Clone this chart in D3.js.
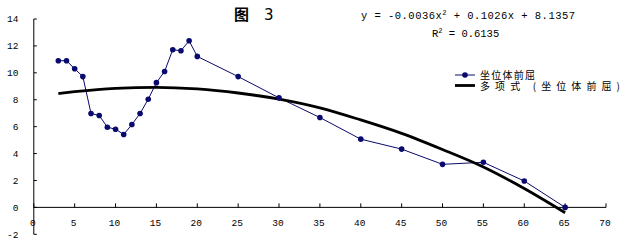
<!DOCTYPE html>
<html><head><meta charset="utf-8">
<script src="https://cdn.jsdelivr.net/npm/d3@7"></script>
<style>body{margin:0;background:#fff}svg{display:block}</style>
</head><body>
<svg id="c" width="623" height="240"></svg>
<script>
const xValues = [3,4,5,6,7,8,9,10,11,12,13,14,15,16,17,18,19,20,25,30,35,40,45,50,55,60,65];
const yValues = [10.9,10.9,10.3,9.72,6.98,6.83,5.96,5.81,5.42,6.16,6.98,8.04,9.27,10.1,11.72,11.64,12.38,11.22,9.72,8.14,6.68,5.07,4.33,3.2,3.35,1.96,0.0];
const trendX = [3,5,10,15,20,25,30,35,40,45,50,55,60,65];
const trendY = [8.46,8.6,8.85,8.92,8.8,8.5,8.05,7.4,6.5,5.5,4.3,3.0,1.4,-0.4];
const xTicks = [0,5,10,15,20,25,30,35,40,45,50,55,60,65,70];
const yTicks = [-2,0,2,4,6,8,10,12,14];
const seriesName = "坐位体前屈";
const trendName = "多项式 (坐位体前屈)";
const titleA = "图";
const titleB = "3";
const eqText = "y = -0.0036x";
const eqText2 = " + 0.1026x + 8.1357";
const r2Text = " = 0.6135";

const svg = d3.select("#c");
const x = d3.scaleLinear().domain([0,70]).range([33.8,606]);
const y = d3.scaleLinear().domain([-2,14]).range([234.3,19]);
const navy = "#0a0a6e";
const tickFont = "'Liberation Mono', monospace";

// y axis
svg.append("line").attr("x1",x(0)).attr("x2",x(0)).attr("y1",y(14)).attr("y2",y(-2)).attr("stroke","#000");
yTicks.forEach(t=>{
  svg.append("line").attr("x1",x(0)).attr("x2",x(0)+3).attr("y1",y(t)).attr("y2",y(t)).attr("stroke","#000");
  svg.append("text").attr("x",18.5).attr("y",y(t)).attr("dy","0.35em").attr("text-anchor","end")
    .attr("font-family",tickFont).attr("font-size","9.5px").text(t);
});
// x axis
svg.append("line").attr("x1",x(0)).attr("x2",x(70)).attr("y1",y(0)).attr("y2",y(0)).attr("stroke","#000");
xTicks.forEach(t=>{
  svg.append("line").attr("x1",x(t)).attr("x2",x(t)).attr("y1",y(0)).attr("y2",y(0)-4).attr("stroke","#000");
  svg.append("text").attr("x",x(t)-1).attr("y",225.5).attr("text-anchor","middle")
    .attr("font-family",tickFont).attr("font-size","9.5px").text(t);
});

// series line
const pts = xValues.map((v,i)=>[v,yValues[i]]);
svg.append("path").attr("d",d3.line().x(d=>x(d[0])).y(d=>y(d[1]))(pts))
  .attr("fill","none").attr("stroke",navy).attr("stroke-width",1);
// trend
const tpts = trendX.map((v,i)=>[v,trendY[i]]);
svg.append("path").attr("d",d3.line().curve(d3.curveMonotoneX).x(d=>x(d[0])).y(d=>y(d[1]))(tpts))
  .attr("fill","none").attr("stroke","#000").attr("stroke-width",2.8);
// markers
svg.selectAll("circle.m").data(pts).enter().append("circle").attr("class","m")
  .attr("cx",d=>x(d[0])).attr("cy",d=>y(d[1])).attr("r",2.8).attr("fill",navy);

// title
svg.append("text").attr("x",234).attr("y",20).attr("font-family","'Noto Sans CJK SC'")
  .attr("font-size","15px").attr("font-weight","bold").text(titleA);
svg.append("text").attr("x",264).attr("y",20).attr("font-family","'DejaVu Sans'")
  .attr("font-size","15px").text(titleB);

// equation
const eq = svg.append("text").attr("x",361).attr("y",18.5).attr("font-family",tickFont).attr("font-size","10.5px")
  .attr("textLength",214).attr("lengthAdjust","spacing");
eq.append("tspan").text(eqText);
eq.append("tspan").attr("dy",-4).attr("font-size","7px").text("2");
eq.append("tspan").attr("dy",4).text(eqText2);
const r2 = svg.append("text").attr("x",432).attr("y",36.5).attr("font-family",tickFont).attr("font-size","10.5px");
r2.append("tspan").text("R");
r2.append("tspan").attr("dy",-4).attr("font-size","7px").text("2");
r2.append("tspan").attr("dy",4).text(r2Text);

// legend
svg.append("line").attr("x1",455).attr("x2",475).attr("y1",75).attr("y2",75).attr("stroke",navy).attr("stroke-width",1);
svg.append("circle").attr("cx",465).attr("cy",75).attr("r",2.8).attr("fill",navy);
svg.append("text").attr("x",480).attr("y",75).attr("dy","0.35em").attr("font-family","'Noto Sans CJK SC'")
  .attr("font-size","10px").attr("textLength",55).text(seriesName);
svg.append("line").attr("x1",455).attr("x2",475).attr("y1",85.5).attr("y2",85.5).attr("stroke","#000").attr("stroke-width",2.8);
svg.append("text").attr("x",480).attr("y",86).attr("dy","0.35em").attr("font-family","'Noto Sans CJK SC'")
  .attr("font-size","10px").attr("textLength",140).text(trendName);
</script>
</body></html>
